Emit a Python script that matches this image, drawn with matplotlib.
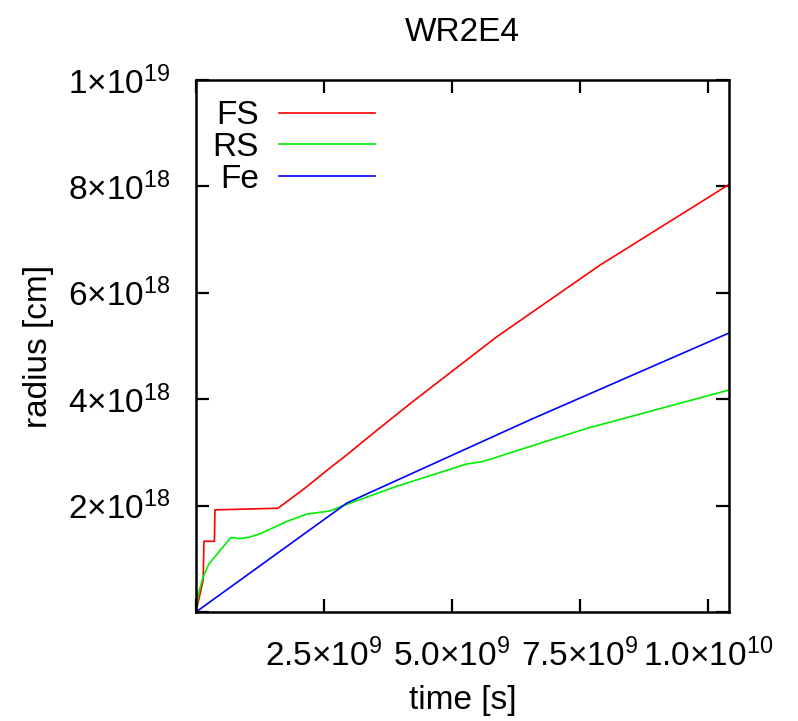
import matplotlib
matplotlib.use("Agg")
import matplotlib.pyplot as plt

fs_t = [0, 1.4e8, 1.55e8, 3.6e8, 3.7e8, 1.6e9, 2.09e9, 2.62e9, 2.94e9, 3.5e9, 4.2e9, 5.87e9, 7.89e9, 1.04e10]
fs_r = [0, 0.6e18, 1.33e18, 1.33e18, 1.92e18, 1.95e18, 2.30e18, 2.71e18, 2.95e18, 3.39e18, 3.93e18,
        5.17e18, 6.52e18, 8.03e18]

rs_t = [0, 0.5e8, 1.4e8, 2.5e8, 3.7e8, 6.8e8, 8.5e8, 1.02e9, 1.25e9, 1.77e9, 2.16e9, 2.62e9, 2.85e9,
        3.91e9, 5.28e9, 5.61e9, 6.52e9, 7.63e9, 1.04e10]
rs_r = [0, 0.35e18, 0.66e18, 0.9e18, 1.04e18, 1.40e18, 1.38e18, 1.40e18, 1.47e18, 1.70e18, 1.84e18,
        1.90e18, 1.99e18, 2.36e18, 2.78e18, 2.83e18, 3.11e18, 3.45e18, 4.17e18]

fe_t = [0, 2.95e9, 6.52e9, 1.04e10]
fe_r = [0, 2.05e18, 3.61e18, 5.24e18]

xticks = [0, 2.5e9, 5.0e9, 7.5e9, 1.0e10]
xlabels = ["", r"$2.5{\times}10^{9}$", r"$5.0{\times}10^{9}$", r"$7.5{\times}10^{9}$", r"$1.0{\times}10^{10}$"]
yticks = [0, 2e18, 4e18, 6e18, 8e18, 1e19]
ylabels = ["", r"$2{\times}10^{18}$", r"$4{\times}10^{18}$", r"$6{\times}10^{18}$", r"$8{\times}10^{18}$",
           r"$1{\times}10^{19}$"]

plt.rcParams["font.family"] = ["Liberation Sans", "DejaVu Sans"]
plt.rcParams["mathtext.fontset"] = "custom"
plt.rcParams["mathtext.rm"] = "Liberation Sans"
plt.rcParams["mathtext.it"] = "Liberation Sans:italic"
plt.rcParams["mathtext.default"] = "regular"

fig = plt.figure(figsize=(7.98, 7.21), dpi=100)
ax = fig.add_axes([196 / 798, 1 - 612 / 721, 533 / 798, 532 / 721])

ax.plot(fs_t, fs_r, color="#ff0000", lw=1.2, label="FS")
ax.plot(rs_t, rs_r, color="#00ee00", lw=1.2, label="RS")
ax.plot(fe_t, fe_r, color="#0000ff", lw=1.2, label="Fe")

ax.set_xlim(0, 1.041e10)
ax.set_ylim(0, 1e19)
ax.set_xticks(xticks)
ax.set_xticklabels(xlabels)
ax.set_yticks(yticks)
ax.set_yticklabels(ylabels)
ax.tick_params(direction="in", length=9.5, width=1.6, labelsize=24, top=True, right=True, pad=18.6)
ax.tick_params(axis="x", pad=19)
for s in ax.spines.values():
    s.set_linewidth(1.8)

ax.set_xlabel("time [s]", fontsize=24, labelpad=9)
ax.set_ylabel("radius [cm]", fontsize=24, labelpad=10)
ax.set_title("WR2E4", fontsize=24, pad=28)

ax.legend(loc="upper left", bbox_to_anchor=(0.0305, 0.962), frameon=False, markerfirst=False,
          fontsize=24, handlelength=2.9, handletextpad=0.6, labelspacing=0.02, borderpad=0,
          borderaxespad=0)

fig.savefig("out.png", dpi=100)
